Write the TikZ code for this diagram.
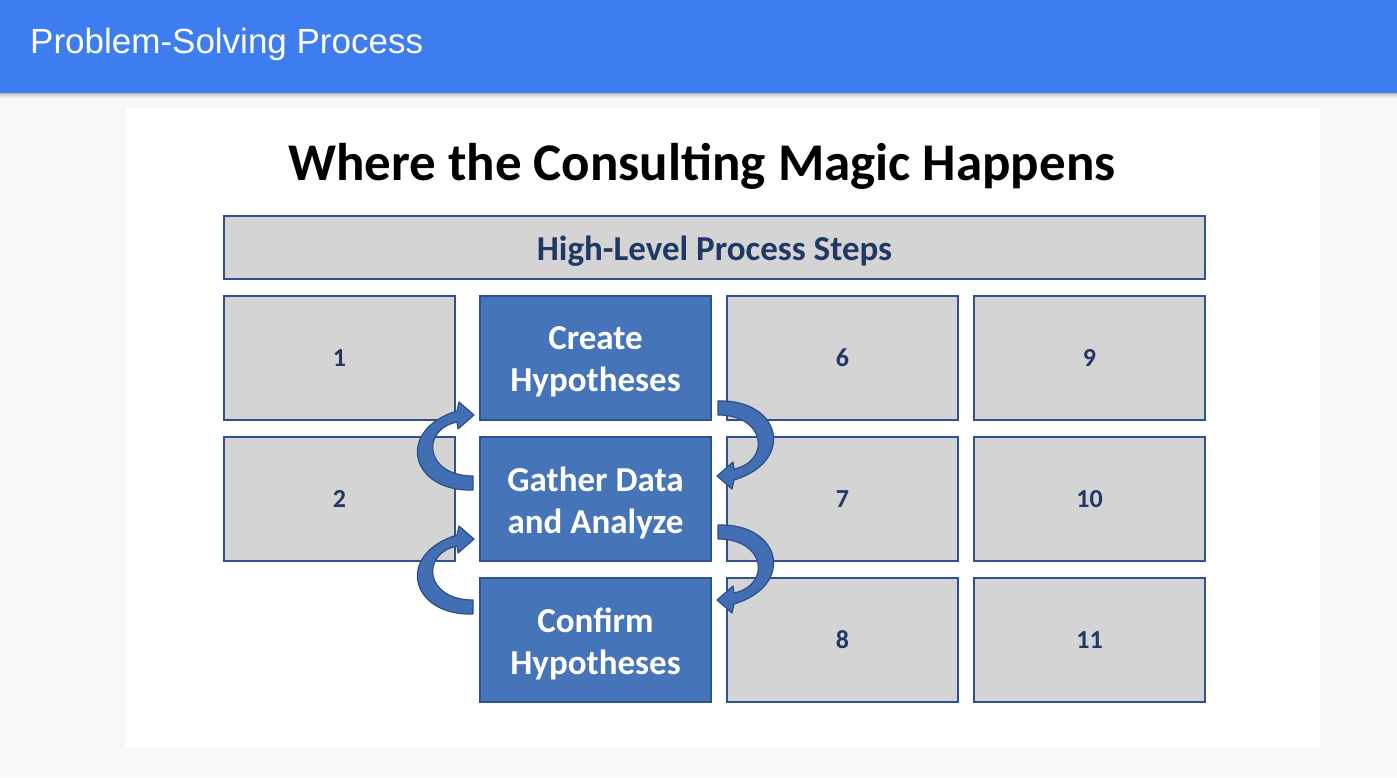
\documentclass[tikz,border=0pt]{standalone}
\usepackage{fontspec}
\setmainfont{Carlito}
\newfontfamily\hdrfont{Liberation Sans}
\definecolor{hdrblue}{RGB}{61,125,240}
\definecolor{pagebg}{RGB}{248,248,248}
\definecolor{boxgray}{RGB}{212,212,212}
\definecolor{boxline}{RGB}{47,82,143}
\definecolor{txtblue}{RGB}{32,56,100}
\definecolor{boxblue}{RGB}{70,116,184}
\definecolor{arrfill}{RGB}{66,110,180}
\definecolor{arrline}{RGB}{44,78,140}
\tikzset{
  gbox/.style={draw=boxline, line width=2.5pt, fill=boxgray, minimum width=231pt, minimum height=124pt, inner sep=0pt, font=\fontsize{26}{30}\selectfont\bfseries, text=txtblue},
  bbox/.style={draw=boxline, line width=2.5pt, fill=boxblue, minimum width=231pt, minimum height=124pt, inner sep=0pt},
  btext/.style={font=\fontsize{35}{42}\selectfont\bfseries, text=white, align=center, inner sep=0pt, yshift=-4pt},
  blockarrow/.style={fill=arrfill, draw=arrline, line width=1.2pt, line join=round}
}
\begin{document}
\begin{tikzpicture}[x=1pt,y=-1pt]
\useasboundingbox (0,0) rectangle (1397,777);
\fill[pagebg] (0,0) rectangle (1397,777);
% header shadow
\foreach \i/\o in {0/0.25,1/0.18,2/0.12,3/0.07,4/0.04,5/0.02}{
  \fill[black,opacity=\o] (0,93+\i) rectangle (1397,94+\i);
}
\fill[hdrblue] (0,0) rectangle (1397,93);
\node[anchor=base west, text=white, font=\hdrfont\fontsize{35}{40}\selectfont, inner sep=0pt] (hdr) at (30,53) {Problem-Solving Process};
% panel
\fill[white] (126,108) rectangle (1320,747);
\node[font=\fontsize{53}{56}\selectfont\bfseries, inner sep=0pt] (title) at (702,166) {Where the Consulting Magic Happens};
\node[draw=boxline, line width=2.5pt, fill=boxgray, minimum width=981pt, minimum height=63pt, inner sep=0pt,
  label={[font=\fontsize{35}{40}\selectfont\bfseries, text=txtblue, inner sep=0pt, yshift=-3.5pt]center:High-Level Process Steps}] (steps) at (714.5,247.5) {};
% grid
\node[gbox] (b1) at (339.5,358) {1};
\node[gbox] (b2) at (339.5,499) {2};
\node[bbox, label={[btext]center:Create\\Hypotheses}] (create) at (595.5,358) {};
\node[bbox, label={[btext]center:Gather Data\\and Analyze}] (gather) at (595.5,499) {};
\node[bbox, label={[btext]center:Confirm\\Hypotheses}] (confirm) at (595.5,640) {};
\node[gbox] (b6) at (842.5,358) {6};
\node[gbox] (b7) at (842.5,499) {7};
\node[gbox] (b8) at (842.5,640) {8};
\node[gbox] (b9) at (1089.5,358) {9};
\node[gbox] (b10) at (1089.5,499) {10};
\node[gbox] (b11) at (1089.5,640) {11};
% curved block arrows
\foreach \dy in {0,124}{
  \begin{scope}[shift={(0,\dy)}]
    \filldraw[blockarrow] (473,490) .. controls (410,492) and (395,430) .. (457,411) -- (459,402) -- (474,415) -- (458,429) -- (457,422) .. controls (420,430) and (425,476) .. (473,476) -- cycle;
  \end{scope}
  \begin{scope}[shift={(0,\dy)}, rotate around={180:(595.5,445.5)}]
    \filldraw[blockarrow] (473,490) .. controls (410,492) and (395,430) .. (457,411) -- (459,402) -- (474,415) -- (458,429) -- (457,422) .. controls (420,430) and (425,476) .. (473,476) -- cycle;
  \end{scope}
}
\end{tikzpicture}
\end{document}
